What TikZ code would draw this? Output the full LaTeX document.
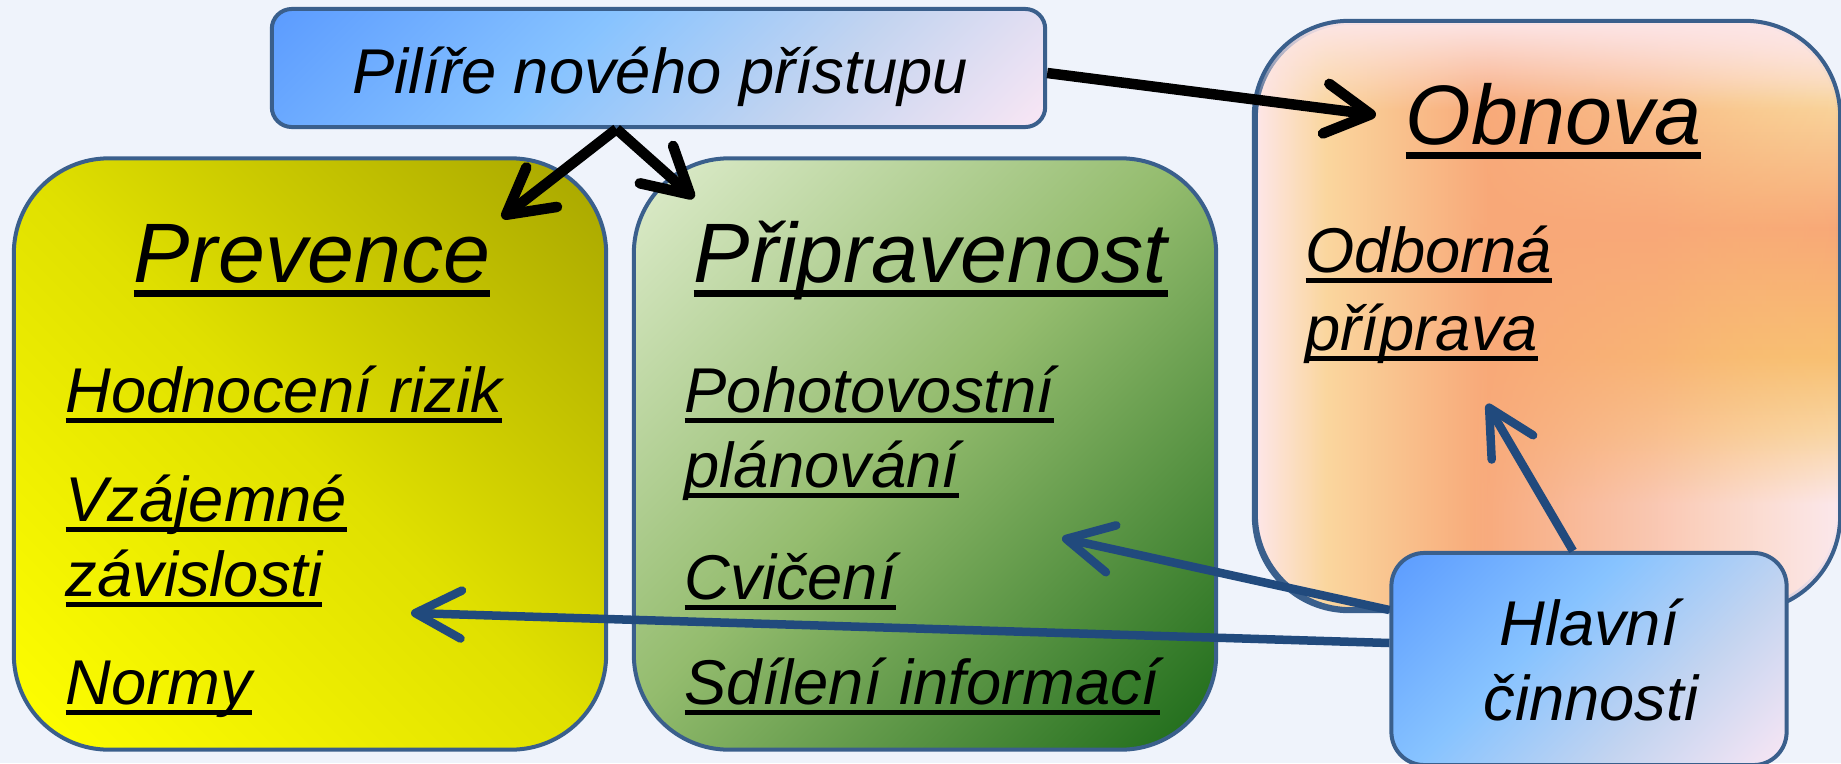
\documentclass[tikz,border=0pt]{standalone}
\usepackage{fontspec}
\setmainfont{Liberation Sans}
\usetikzlibrary{arrows.meta,calc,fadings}
\definecolor{bg}{RGB}{239,243,251}
\definecolor{bord}{RGB}{58,95,140}
\definecolor{arrowblue}{RGB}{33,74,125}
% Prevence
\definecolor{py1}{RGB}{255,255,0}
\definecolor{py2}{RGB}{224,224,0}
\definecolor{py3}{RGB}{168,166,0}
% Pripravenost
\definecolor{pg1}{RGB}{222,236,204}
\definecolor{pg2}{RGB}{148,188,110}
\definecolor{pg3}{RGB}{28,106,24}
% blue boxes
\definecolor{bl1}{RGB}{92,156,255}
\definecolor{bl2}{RGB}{135,195,255}
\definecolor{bl3}{RGB}{195,212,240}
\definecolor{bl4}{RGB}{248,230,244}
% Obnova
\definecolor{ob1}{RGB}{253,230,232}
\definecolor{ob2}{RGB}{250,214,158}
\definecolor{ob3}{RGB}{248,168,120}
\definecolor{ob4}{RGB}{248,192,114}
\definecolor{ob5}{RGB}{250,214,165}
\definecolor{ob6}{RGB}{252,232,238}
\pgfdeclarehorizontalshading{prevsh}{100bp}{color(0bp)=(py1);color(15bp)=(py1);color(50bp)=(py2);color(85bp)=(py3);color(100bp)=(py3)}
\pgfdeclarehorizontalshading{pripsh}{100bp}{color(0bp)=(pg1);color(15bp)=(pg1);color(48bp)=(pg2);color(85bp)=(pg3);color(100bp)=(pg3)}
\pgfdeclarehorizontalshading{bluesh}{100bp}{color(0bp)=(bl1);color(15bp)=(bl1);color(42bp)=(bl2);color(64bp)=(bl3);color(85bp)=(bl4);color(100bp)=(bl4)}
\pgfdeclarehorizontalshading{obsh}{100bp}{color(0bp)=(ob1);color(25bp)=(ob1);color(31bp)=(ob2);color(45bp)=(ob3);color(60bp)=(ob3);color(75bp)=(ob4);color(100bp)=(ob4)}
\pgfdeclareverticalshading{obvert}{100bp}{color(0bp)=(ob6);color(34bp)=(ob6);color(40bp)=(ob5);color(46.5bp)=(ob4);color(57.5bp)=(ob3);color(68.5bp)=(ob2);color(75bp)=(ob1);color(100bp)=(ob1)}
\pgfdeclareverticalshading{obtop}{100bp}{color(0bp)=(ob1);color(62bp)=(ob1);color(75bp)=(ob1);color(100bp)=(ob1)}
\newcommand\mybar[1]{\setbox0=\hbox{#1}\rlap{\rule[-0.175em]{\wd0}{0.08em}}\box0}
\begin{document}
\begin{tikzpicture}[x=0.01cm,y=-0.01cm,
  pillar/.style={draw=bord, line width=0.04cm, rounded corners=0.95cm, inner sep=0pt},
  bluebox/.style={draw=bord, line width=0.04cm, rounded corners=0.2cm, inner sep=0pt, shading=bluesh, shading angle=-45},
  head/.style={font=\fontsize{24}{28}\selectfont\itshape, anchor=base west, inner sep=0pt},
  item/.style={font=\fontsize{18}{21.3}\selectfont\itshape, anchor=base west, inner sep=0pt},
  blk/.style={draw=black, line width=0.105cm, -{Straight Barb[length=0.45cm,width=0.5cm,round]}},
  blu/.style={draw=arrowblue, line width=0.085cm, -{Straight Barb[length=0.46cm,width=0.48cm,round]}}]
\useasboundingbox (0,0) rectangle (1841,763);
\fill[bg] (0,0) rectangle (1841,763);
% boxes
\node[pillar, shading=prevsh, shading angle=45, minimum width=5.92cm, minimum height=5.91cm] (prev) at (310,454) {};
\node[pillar, shading=pripsh, shading angle=-45, minimum width=5.82cm, minimum height=5.91cm] (prip) at (925,454) {};
\node[pillar, shading=obsh, minimum width=5.82cm, minimum height=5.86cm] (obn) at (1547,316) {};
\begin{scope}
  \clip[rounded corners=0.95cm] (obn.south west) rectangle (obn.north east);
  \shade[shading=obvert, path fading=west] (1470,23) rectangle (1845,609);
  \fill[ob1, path fading=south] (1250,20) rectangle (1845,110);
\end{scope}
\draw[bord, line width=0.04cm, rounded corners=0.95cm] (obn.south west) rectangle (obn.north east);
\node[bluebox, minimum width=7.73cm, minimum height=1.18cm] (top) at (658.5,68) {};
\node[bluebox, minimum width=3.95cm, minimum height=2.12cm, rounded corners=0.33cm] (hl) at (1589,659) {};
% texts
\node[item, anchor=base] (ttl) at (660,93) {Pilíře nového přístupu};
\node[head] (hprev) at (133,282) {\mybar{Prevence}};
\node[item] (p1) at (65,412) {\mybar{Hodnocení rizik}};
\node[item] (p2) at (65,521) {\mybar{Vzájemné}};
\node[item] (p3) at (65,596) {\mybar{závislosti}};
\node[item] (p4) at (65,704) {\mybar{Normy}};
\node[head] (hprip) at (693,282) {\mybar{Připravenost}};
\node[item] (r1) at (684,412) {\mybar{Pohotovostní}};
\node[item] (r2) at (684,487) {\mybar{plánování}};
\node[item] (r3) at (684,599) {\mybar{Cvičení}};
\node[item] (r4) at (684,704) {\mybar{Sdílení informací}};
\node[head] (hobn) at (1405,144) {\mybar{Obnova}};
\node[item] (o1) at (1305,272) {\mybar{Odborná}};
\node[item] (o2) at (1305,350) {\mybar{příprava}};
\node[item, anchor=base] (h1) at (1589,645) {Hlavní};
\node[item, anchor=base] (h2) at (1591,720) {činnosti};
% arrow tips
\coordinate (tprev) at (502,218);
\coordinate (tprip) at (694,198);
\coordinate (tobn) at (1376,115);
\coordinate (todb) at (1487,404);
\coordinate (tcv) at (1062,538);
\coordinate (tzav) at (411,613);
% arrows
\draw[blk] ($(top.south)+(-42,0)$) -- (tprev);
\draw[blk] ($(top.south)+(-42,0)$) -- (tprip);
\draw[blk] ($(top.east)+(0,5)$) -- (tobn);
\draw[blu] ($(hl.north)+(-16,0)$) -- (todb);
\draw[blu] ($(hl.west)+(0,-49)$) -- (tcv);
\draw[blu] ($(hl.west)+(0,-16)$) -- (tzav);
\end{tikzpicture}
\end{document}
